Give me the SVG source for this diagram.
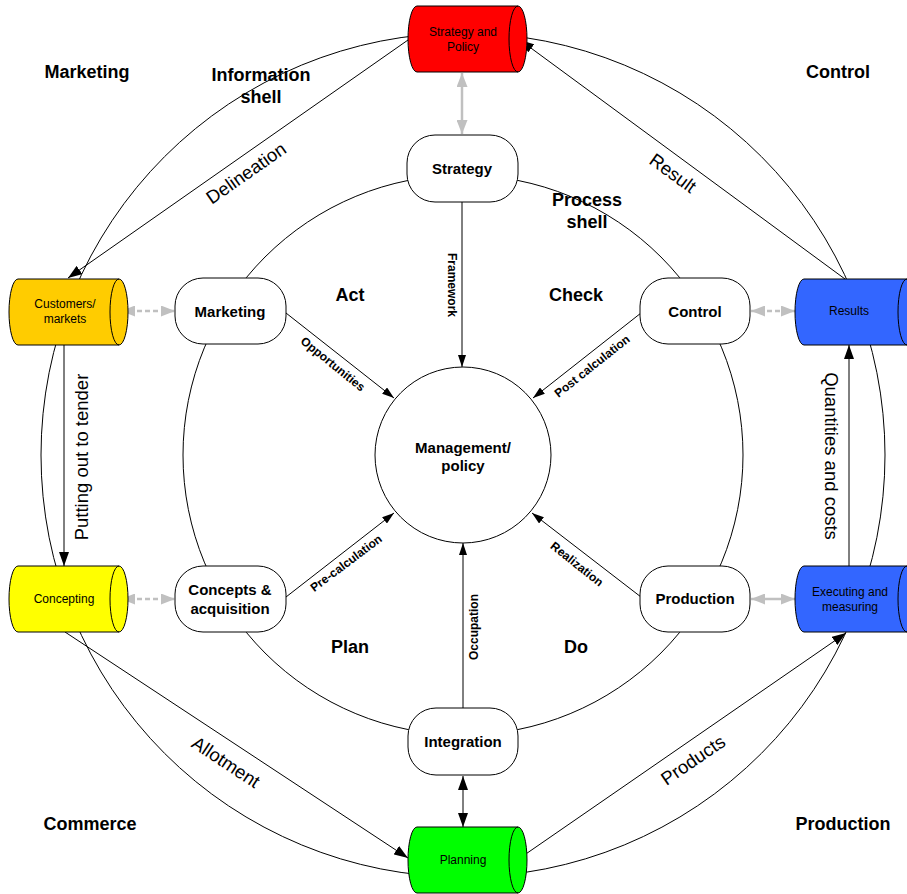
<svg xmlns="http://www.w3.org/2000/svg" width="907" height="894" viewBox="0 0 907 894">
<style>
text{font-family:"Liberation Sans",Arial,Helvetica,sans-serif;fill:#000}
.cyl path{stroke:#000;stroke-width:1}
.cl{font-size:12px;text-anchor:middle}
.node rect,.node circle{fill:#fff;stroke:#000;stroke-width:1}
.nl{font-size:15px;font-weight:bold;text-anchor:middle}
.big{font-size:18px;font-weight:bold;text-anchor:middle}
.el{font-size:18.5px;text-anchor:middle}
.il{font-size:12px;font-weight:bold;text-anchor:middle}
.ln{fill:none;stroke:#000;stroke-width:1}
.ring{fill:none;stroke:#000;stroke-width:1}
.g{fill:none;stroke:#c0c0c0;stroke-width:2.5}
.gd{stroke-dasharray:5,3}
</style>
<defs>
<marker id="ab" viewBox="0 0 14 10" refX="14" refY="5" markerWidth="14" markerHeight="10" orient="auto-start-reverse" markerUnits="userSpaceOnUse"><path d="M0,0 L14,5 L0,10 Z" fill="#000"/></marker>
<marker id="as" viewBox="0 0 12 8" refX="12" refY="4" markerWidth="12" markerHeight="8" orient="auto-start-reverse" markerUnits="userSpaceOnUse"><path d="M0,0 L12,4 L0,8 Z" fill="#000"/></marker>
<marker id="ag" viewBox="0 0 14 11" refX="14" refY="5.5" markerWidth="14" markerHeight="11" orient="auto-start-reverse" markerUnits="userSpaceOnUse"><path d="M0,0 L14,5.5 L0,11 Z" fill="#c0c0c0"/></marker>
</defs>
<rect width="907" height="894" fill="#fff"/>

<g id="rings">
<circle class="ring" cx="463" cy="455" r="422"/>
<circle class="ring" cx="463" cy="455" r="280"/>
</g>

<g id="connectors">
<line class="ln" x1="408" y1="40" x2="68" y2="278" marker-end="url(#ab)"/>
<line class="ln" x1="845" y1="279" x2="520" y2="40" marker-end="url(#ab)"/>
<line class="ln" x1="64" y1="345" x2="64" y2="566" marker-end="url(#ab)"/>
<line class="ln" x1="849" y1="566" x2="849" y2="345" marker-end="url(#ab)"/>
<line class="ln" x1="65" y1="632" x2="408" y2="858" marker-end="url(#ab)"/>
<line class="ln" x1="520" y1="858" x2="846" y2="633" marker-end="url(#ab)"/>
<line class="ln" x1="462" y1="202" x2="462" y2="367" marker-end="url(#as)"/>
<line class="ln" x1="463" y1="708" x2="463" y2="543" marker-end="url(#as)"/>
<line class="ln" x1="286" y1="313" x2="394" y2="398" marker-end="url(#as)"/>
<line class="ln" x1="641" y1="313" x2="533" y2="398" marker-end="url(#as)"/>
<line class="ln" x1="286" y1="597" x2="394" y2="513" marker-end="url(#as)"/>
<line class="ln" x1="641" y1="597" x2="532" y2="513" marker-end="url(#as)"/>
<line class="ln" x1="463" y1="776" x2="463" y2="827" stroke-width="1.5" marker-start="url(#ab)" marker-end="url(#ab)"/>
<line class="g" x1="462" y1="73" x2="462" y2="134" marker-start="url(#ag)" marker-end="url(#ag)"/>
<line class="g gd" x1="121" y1="311" x2="175" y2="311" marker-start="url(#ag)" marker-end="url(#ag)"/>
<line class="g gd" x1="121" y1="599" x2="175" y2="599" marker-start="url(#ag)" marker-end="url(#ag)"/>
<line class="g gd" x1="751" y1="311" x2="795" y2="311" marker-start="url(#ag)" marker-end="url(#ag)"/>
<line class="g" x1="751" y1="599" x2="795" y2="599" marker-start="url(#ag)" marker-end="url(#ag)"/>

<text class="el" transform="translate(246,173) rotate(-35)" y="6.5">Delineation</text>
<text class="el" transform="translate(673,173) rotate(36)" y="6.5">Result</text>
<text class="el" transform="translate(81,457) rotate(-90)" y="6.5">Putting out to tender</text>
<text class="el" transform="translate(831,456) rotate(90)" y="6.5">Quantities and costs</text>
<text class="el" transform="translate(226,762) rotate(33.5)" y="6.5">Allotment</text>
<text class="el" transform="translate(693,760) rotate(-34.5)" y="6.5">Products</text>
<text class="il" transform="translate(452,285) rotate(90)" y="4.2">Framework</text>
<text class="il" transform="translate(474,627) rotate(-90)" y="4.2">Occupation</text>
<text class="il" transform="translate(333,364) rotate(39)" y="4.2">Opportunities</text>
<text class="il" transform="translate(592,366) rotate(-38.5)" y="4.2">Post calculation</text>
<text class="il" transform="translate(346,563) rotate(-37)" y="4.2">Pre-calculation</text>
<text class="il" transform="translate(577,564) rotate(38.5)" y="4.2">Realization</text>
</g>

<g id="strategy-policy" class="cyl">
<path d="M417,6 H518 A9,33 0 0 1 518,72 H417 A9,33 0 0 1 417,6 Z" fill="#ff0000"/>
<path d="M518,6 A9,33 0 0 0 518,72" fill="none"/>
<text class="cl" x="463" y="35.5">Strategy and</text>
<text class="cl" x="463" y="50.5">Policy</text>
</g>
<g id="customers-markets" class="cyl">
<path d="M18,279 H119 A9,33 0 0 1 119,345 H18 A9,33 0 0 1 18,279 Z" fill="#ffcc00"/>
<path d="M119,279 A9,33 0 0 0 119,345" fill="none"/>
<text class="cl" x="65" y="308">Customers/</text>
<text class="cl" x="65" y="323">markets</text>
</g>
<g id="concepting" class="cyl">
<path d="M18,566 H119 A9,33 0 0 1 119,632 H18 A9,33 0 0 1 18,566 Z" fill="#ffff00"/>
<path d="M119,566 A9,33 0 0 0 119,632" fill="none"/>
<text class="cl" x="64" y="603">Concepting</text>
</g>
<g id="results" class="cyl">
<path d="M804,279 H907 A9,33 0 0 1 907,345 H804 A9,33 0 0 1 804,279 Z" fill="#3366ff"/>
<path d="M907,279 A9,33 0 0 0 907,345" fill="none"/>
<text class="cl" x="849" y="315">Results</text>
</g>
<g id="executing-measuring" class="cyl">
<path d="M804,566 H907 A9,33 0 0 1 907,632 H804 A9,33 0 0 1 804,566 Z" fill="#3366ff"/>
<path d="M907,566 A9,33 0 0 0 907,632" fill="none"/>
<text class="cl" x="850" y="596">Executing and</text>
<text class="cl" x="850" y="610.5">measuring</text>
</g>
<g id="planning" class="cyl">
<path d="M417,827 H518 A9,33 0 0 1 518,893 H417 A9,33 0 0 1 417,827 Z" fill="#00ff00"/>
<path d="M518,827 A9,33 0 0 0 518,893" fill="none"/>
<text class="cl" x="463" y="864">Planning</text>
</g>

<g id="strategy" class="node">
<rect x="407" y="135" width="111" height="67" rx="28" ry="28"/>
<text class="nl" x="462" y="173.5">Strategy</text>
</g>
<g id="marketing" class="node">
<rect x="175" y="278" width="111" height="66" rx="28" ry="28"/>
<text class="nl" x="230" y="316.5">Marketing</text>
</g>
<g id="control" class="node">
<rect x="640" y="278" width="110" height="66" rx="28" ry="28"/>
<text class="nl" x="695" y="316.5">Control</text>
</g>
<g id="concepts-acquisition" class="node">
<rect x="175" y="566" width="111" height="66" rx="28" ry="28"/>
<text class="nl" x="230" y="594.5">Concepts &amp;</text>
<text class="nl" x="230" y="613.5">acquisition</text>
</g>
<g id="production" class="node">
<rect x="640" y="566" width="110" height="66" rx="28" ry="28"/>
<text class="nl" x="695" y="604">Production</text>
</g>
<g id="integration" class="node">
<rect x="408" y="708" width="110" height="67" rx="28" ry="28"/>
<text class="nl" x="463" y="747">Integration</text>
</g>
<g id="management" class="node">
<circle cx="463" cy="455" r="88"/>
<text class="nl" x="463" y="452.5">Management/</text>
<text class="nl" x="463" y="470.5">policy</text>
</g>

<g id="labels">
<text class="big" x="87" y="78">Marketing</text>
<text class="big" x="261" y="81">Information</text>
<text class="big" x="261" y="103">shell</text>
<text class="big" x="838" y="78">Control</text>
<text class="big" x="587" y="206">Process</text>
<text class="big" x="587" y="228">shell</text>
<text class="big" x="350" y="301">Act</text>
<text class="big" x="576" y="301">Check</text>
<text class="big" x="350" y="653">Plan</text>
<text class="big" x="576" y="653">Do</text>
<text class="big" x="90" y="830">Commerce</text>
<text class="big" x="843" y="830">Production</text>
</g>
</svg>
